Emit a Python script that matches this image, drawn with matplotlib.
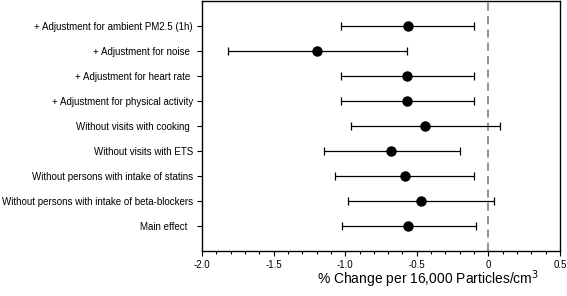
import matplotlib
matplotlib.use("Agg")
import matplotlib.pyplot as plt
from matplotlib.ticker import MultipleLocator

# Data (bottom to top)
labels = [
    "Main effect  ",
    "Without persons with intake of beta-blockers",
    "Without persons with intake of statins",
    "Without visits with ETS",
    "Without visits with cooking ",
    "+ Adjustment for physical activity",
    "+ Adjustment for heart rate ",
    "+ Adjustment for noise ",
    "+ Adjustment for ambient PM2.5 (1h)",
]
estimate = [-0.56, -0.47, -0.58, -0.68, -0.44, -0.57, -0.57, -1.20, -0.56]
ci_low = [-1.02, -0.98, -1.07, -1.15, -0.96, -1.03, -1.03, -1.82, -1.03]
ci_high = [-0.09, 0.04, -0.10, -0.20, 0.08, -0.10, -0.10, -0.57, -0.10]

plt.rcParams["font.family"] = ["Liberation Sans", "DejaVu Sans"]

fig = plt.figure(figsize=(5.67, 2.96), dpi=100)
ax = fig.add_axes([202 / 567, 1 - 251 / 296, 358 / 567, 250.5 / 296])

ypos = list(range(1, len(labels) + 1))
xerr = [[e - lo for e, lo in zip(estimate, ci_low)],
        [hi - e for e, hi in zip(estimate, ci_high)]]

ax.axvline(0, color="#7f7f7f", linestyle=(0, (5, 3)), linewidth=1.2, zorder=1)
ax.errorbar(estimate, ypos, xerr=xerr, fmt="o", color="black",
            markersize=6.5, ecolor="black", elinewidth=0.9,
            capsize=3, capthick=0.9, zorder=3)

ax.set_xlim(-2.0, 0.5)
ax.set_ylim(0, len(labels) + 1)
ax.xaxis.set_major_locator(MultipleLocator(0.5))
ax.xaxis.set_minor_locator(MultipleLocator(0.1))
ax.set_xticks([-2.0, -1.5, -1.0, -0.5, 0, 0.5])
ax.set_xticklabels(["-2.0", "-1.5", "-1.0", "-0.5", "0", "0.5"])
ax.set_yticks(ypos)
ax.set_yticklabels(labels)

ax.tick_params(axis="both", which="major", direction="out", length=3.5,
               width=0.8, labelsize=7, pad=3)
ax.tick_params(axis="x", which="minor", direction="out", length=2, width=0.8)
ax.tick_params(axis="y", which="minor", left=False)

for sp in ax.spines.values():
    sp.set_linewidth(1.0)

# x label sits right of centre in the reference
ax.set_xlabel("% Change per 16,000 Particles/cm$^3$", fontsize=10)
ax.xaxis.set_label_coords((428 - 202) / 358, -0.132, transform=ax.transAxes)
ax.xaxis.label.set_verticalalignment("baseline")

fig.savefig("out.png", dpi=100)
